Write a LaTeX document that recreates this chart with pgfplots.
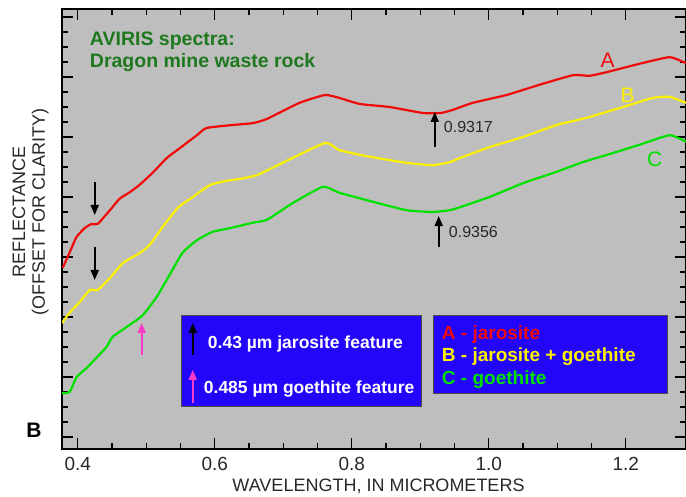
\documentclass[border=0pt]{standalone}
\usepackage{fontspec}
\setmainfont{Liberation Sans}
\usepackage{pgfplots}
\pgfplotsset{compat=1.18}
\usetikzlibrary{arrows.meta}
\definecolor{bg}{RGB}{190,190,190}
\definecolor{cA}{RGB}{240,10,10}
\definecolor{cB}{RGB}{250,240,0}
\definecolor{cC}{RGB}{0,225,0}
\definecolor{tg}{RGB}{30,120,30}
\definecolor{bx}{RGB}{35,5,250}
\definecolor{pk}{RGB}{250,60,200}
\definecolor{nt}{RGB}{40,40,40}
\tikzset{arr/.style={line width=1.8pt,-{Triangle[width=8pt,length=10pt]}}}
\begin{document}
\begin{tikzpicture}
\begin{axis}[at={(0,0)},anchor=south west, scale only axis, width=624pt, height=440pt,
 xmin=0.377, xmax=1.288, ymin=-0.2, ymax=7.133,
 axis background/.style={fill=bg},
 axis line style={line width=1.6pt},
 xtick={0.4,0.6,0.8,1.0,1.2}, xticklabels={0.4,0.6,0.8,1.0,1.2},
 minor x tick num=3,
 ytick={0,1,2,3,4,5,6,7}, yticklabels={}, minor y tick num=3,
 major tick length=11pt, minor tick length=6pt,
 every tick/.style={black, line width=1.4pt},
 tick align=inside,
 xticklabel style={font=\fontsize{19}{19}\selectfont, text=nt, anchor=base, yshift=-21pt},
]
\addplot[cA, line width=2.2pt, smooth, tension=0.3] coordinates {
(0.378,2.82) (0.388,3.07) (0.398,3.33) (0.410,3.48) (0.420,3.55) (0.429,3.55) (0.447,3.78) (0.461,3.97) (0.476,4.08) (0.490,4.20) (0.509,4.40) (0.530,4.65) (0.545,4.78) (0.574,5.03) (0.588,5.15) (0.626,5.20) (0.655,5.23) (0.676,5.30) (0.724,5.57) (0.761,5.70) (0.782,5.65) (0.812,5.55) (0.855,5.50) (0.904,5.40) (0.930,5.40) (0.947,5.45) (0.977,5.57) (1.026,5.70) (1.074,5.87) (1.123,6.03) (1.147,6.02) (1.172,6.08) (1.220,6.22) (1.264,6.33) (1.288,6.23)};
\addplot[cB, line width=2.2pt, smooth, tension=0.3] coordinates {
(0.377,1.90) (0.388,2.07) (0.403,2.25) (0.4175,2.45) (0.429,2.45) (0.447,2.65) (0.466,2.90) (0.491,3.07) (0.505,3.20) (0.524,3.50) (0.546,3.82) (0.568,4.00) (0.593,4.20) (0.6175,4.27) (0.6365,4.30) (0.663,4.37) (0.699,4.57) (0.761,4.90) (0.782,4.78) (0.822,4.68) (0.880,4.57) (0.918,4.53) (0.943,4.58) (0.958,4.65) (1.001,4.83) (1.050,5.00) (1.099,5.20) (1.143,5.32) (1.196,5.50) (1.239,5.65) (1.264,5.67) (1.288,5.57)};
\addplot[cC, line width=2.2pt, smooth, tension=0.3] coordinates {
(0.377,0.73) (0.388,0.75) (0.3985,1.00) (0.413,1.15) (0.428,1.33) (0.442,1.50) (0.451,1.67) (0.476,1.87) (0.495,2.03) (0.515,2.33) (0.534,2.70) (0.553,3.07) (0.574,3.28) (0.597,3.42) (0.622,3.48) (0.655,3.57) (0.676,3.62) (0.714,3.90) (0.758,4.17) (0.782,4.07) (0.831,3.92) (0.880,3.78) (0.918,3.75) (0.943,3.78) (0.958,3.83) (1.001,4.00) (1.050,4.23) (1.099,4.42) (1.137,4.58) (1.172,4.70) (1.220,4.87) (1.264,5.03) (1.288,4.92)};
% title
\node[anchor=base west, inner sep=0, text=tg, font=\fontsize{19.5}{19.5}\selectfont\bfseries] at (axis cs:0.4175,6.533) {AVIRIS spectra:};
\node[anchor=base west, inner sep=0, text=tg, font=\fontsize{19.5}{19.5}\selectfont\bfseries] at (axis cs:0.4175,6.15) {Dragon mine waste rock};
% curve labels
\node[anchor=base, inner sep=0, text=cA, font=\fontsize{21}{21}\selectfont] at (axis cs:1.1737,6.15) {A};
\node[anchor=base, inner sep=0, text=cB, font=\fontsize{21}{21}\selectfont] at (axis cs:1.2029,5.567) {B};
\node[anchor=base, inner sep=0, text=cC, font=\fontsize{21}{21}\selectfont] at (axis cs:1.2423,4.5) {C};
% arrows
\draw[arr] (axis cs:0.4248,4.25) -- (axis cs:0.4248,3.70);
\draw[arr] (axis cs:0.4248,3.167) -- (axis cs:0.4248,2.617);
\draw[arr, pk] (axis cs:0.4934,1.367) -- (axis cs:0.4934,1.9);
\draw[arr] (axis cs:0.9212,4.833) -- (axis cs:0.9212,5.417);
\draw[arr] (axis cs:0.927,3.167) -- (axis cs:0.927,3.683);
\node[anchor=base west, inner sep=0, text=nt, font=\fontsize{16}{16}\selectfont] at (axis cs:0.9343,5.067) {0.9317};
\node[anchor=base west, inner sep=0, text=nt, font=\fontsize{16}{16}\selectfont] at (axis cs:0.9416,3.333) {0.9356};
% box 1
\draw[fill=bx, draw=black!70, line width=1pt] (axis cs:0.5518,0.5) rectangle (axis cs:0.9022,2.033);
\draw[arr] (axis cs:0.5679,1.367) -- (axis cs:0.5679,1.9);
\draw[arr, pk] (axis cs:0.5679,0.567) -- (axis cs:0.5679,1.117);
\node[anchor=base west, inner sep=0, text=white, font=\fontsize{17.5}{17.5}\selectfont\bfseries] at (axis cs:0.5898,1.483) {0.43 µm jarosite feature};
\node[anchor=base west, inner sep=0, text=white, font=\fontsize{17.5}{17.5}\selectfont\bfseries] at (axis cs:0.5839,0.717) {0.485 µm goethite feature};
% box 2
\draw[fill=bx, draw=black!70, line width=1pt] (axis cs:0.9197,0.733) rectangle (axis cs:1.2613,2.017);
\node[anchor=base west, inner sep=0, text=cA, font=\fontsize{19}{19}\selectfont\bfseries] at (axis cs:0.9314,1.633) {A - jarosite};
\node[anchor=base west, inner sep=0, text=cB, font=\fontsize{19}{19}\selectfont\bfseries] at (axis cs:0.9314,1.25) {B - jarosite + goethite};
\node[anchor=base west, inner sep=0, text=cC, font=\fontsize{19}{19}\selectfont\bfseries] at (axis cs:0.9314,0.883) {C - goethite};
\end{axis}
% outer labels
\node[anchor=base, inner sep=0, text=nt, font=\fontsize{18}{18}\selectfont] at (316.5pt,-42pt) {WAVELENGTH, IN MICROMETERS};
\node[anchor=base, inner sep=0, rotate=90, text=nt, font=\fontsize{18}{18}\selectfont] at (-37pt,237pt) {REFLECTANCE};
\node[anchor=base, inner sep=0, rotate=90, text=nt, font=\fontsize{18}{18}\selectfont] at (-17pt,237pt) {(OFFSET FOR CLARITY)};
\node[anchor=base, inner sep=0, font=\fontsize{21}{21}\selectfont\bfseries] at (-28pt,12pt) {B};
\pgfresetboundingbox
\useasboundingbox (-62pt,-47pt) rectangle (624pt,449pt);
\end{tikzpicture}
\end{document}
